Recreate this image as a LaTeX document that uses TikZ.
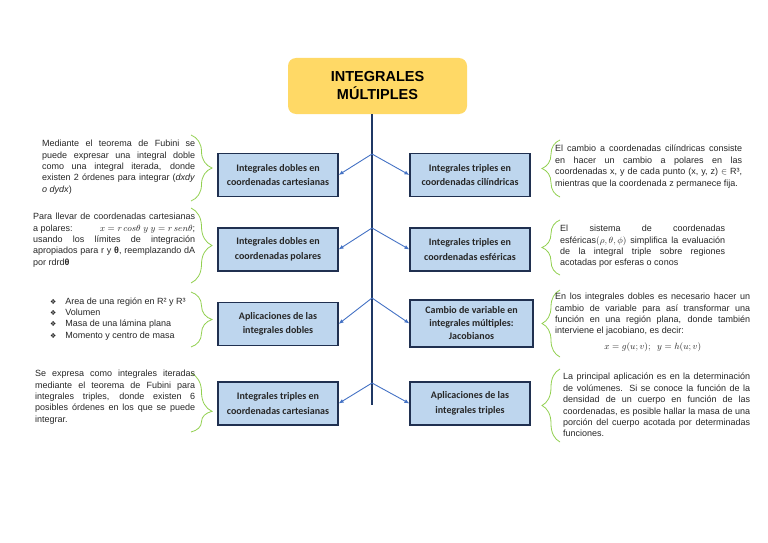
\documentclass[tikz,border=0pt]{standalone}
\usepackage{fontspec}
\setmainfont{Liberation Sans}
\newfontfamily\carlito{Carlito}
\newfontfamily\dejavu{DejaVu Sans}
\usetikzlibrary{decorations.pathreplacing, arrows.meta}
\tikzstyle{every picture}+=[font=\fontsize{9}{11.4}\selectfont]
\tikzstyle{titulo}=[fill=amarillo, rounded corners=8pt, minimum width=179pt, minimum height=56pt, align=center, font=\bfseries\fontsize{14.5}{18}\selectfont]
\tikzstyle{tema}=[draw=borde, fill=celeste, line width=1.1pt, minimum width=120pt, minimum height=43pt, align=center, inner sep=2pt, text=black!85, font=\carlito\bfseries\fontsize{10}{14.5}\selectfont]
\tikzstyle{nota}=[anchor=north west, inner sep=0pt, align=justify, text=black!85]
\tikzstyle{llave}=[draw=verde, line width=0.8pt, decorate, decoration={brace, amplitude=21pt}]
\tikzstyle{rama}=[draw=azul, line width=0.9pt, -{Latex[length=5pt, width=4pt]}]

\begin{document}
\begin{tikzpicture}[x=1pt, y=-1pt]
\definecolor{amarillo}{RGB}{255,217,102}
\definecolor{celeste}{RGB}{190,214,238}
\definecolor{borde}{RGB}{32,48,80}
\definecolor{azul}{RGB}{68,114,196}
\definecolor{verde}{RGB}{146,208,80}
\definecolor{marino}{RGB}{31,56,100}
\useasboundingbox (0,0) rectangle (768,543);
%%
\draw (377.5,86) node [titulo] (titulo) {INTEGRALES\\MÚLTIPLES};

%% eje central
\coordinate (ejeA) at (372,114);
\coordinate (ejeB) at (372,405);
\draw[marino, line width=2.2pt] (ejeA) -- (ejeB);

%% temas izquierda
\draw (278,175) node [tema] (dcart) {Integrales dobles en\\coordenadas cartesianas};
\draw (278,249.5) node [tema] (dpol) {Integrales dobles en\\coordenadas polares};
\draw (278,324) node [tema] (dapl) {Aplicaciones de las\\integrales dobles};
\draw (278,403.5) node [tema] (tcart) {Integrales triples en\\coordenadas cartesianas};

%% temas derecha
\draw (470,175) node [tema] (tcil) {Integrales triples en\\coordenadas cilíndricas};
\draw (470,249.5) node [tema] (tesf) {Integrales triples en\\coordenadas esféricas};
\draw (471.5,323.5) node [tema, minimum width=123pt, minimum height=47pt, font=\carlito\bfseries\fontsize{10}{13}\selectfont] (jacob) {Cambio de variable en\\integrales múltiples:\\Jacobianos};
\draw (470,403.5) node [tema] (tapl) {Aplicaciones de las\\integrales triples};

%% ramas
\coordinate (j1) at (372,154);
\coordinate (j2) at (372,228);
\coordinate (j3) at (372,298);
\coordinate (j4) at (372,383);
\draw[rama] (j1) -- (dcart.east);
\draw[rama] (j1) -- (tcil.west);
\draw[rama] (j2) -- (dpol.east);
\draw[rama] (j2) -- (tesf.west);
\draw[rama] (j3) -- (dapl.east);
\draw[rama] (j3) -- (jacob.west);
\draw[rama] (j4) -- (tcart.east);
\draw[rama] (j4) -- (tapl.west);

%% llaves
\coordinate (l1a) at (191,135); \coordinate (l1b) at (191,201);
\coordinate (l2a) at (191,208); \coordinate (l2b) at (191,283);
\coordinate (l3a) at (191,292); \coordinate (l3b) at (191,347);
\coordinate (l4a) at (191,373); \coordinate (l4b) at (191,432);
\draw[llave] (l1a) -- (l1b);
\draw[llave] (l2a) -- (l2b);
\draw[llave] (l3a) -- (l3b);
\draw[llave, decoration={aspect=0.65}] (l4a) -- (l4b);
\coordinate (r1a) at (560,140); \coordinate (r1b) at (560,197);
\coordinate (r2a) at (560,220); \coordinate (r2b) at (560,275);
\coordinate (r3a) at (560,290); \coordinate (r3b) at (560,357);
\coordinate (r4a) at (560,369); \coordinate (r4b) at (560,442);
\draw[llave, decoration={amplitude=18pt}] (r1b) -- (r1a);
\draw[llave, decoration={amplitude=18pt}] (r2b) -- (r2a);
\draw[llave, decoration={amplitude=18pt}] (r3b) -- (r3a);
\draw[llave, decoration={amplitude=18pt}] (r4b) -- (r4a);

%% textos izquierda
\draw (42,140) node [nota, text width=153pt] (n1) {Mediante el teorema de Fubini se\linebreak
 puede expresar una integral doble\linebreak
 como una integral iterada, donde\linebreak
 existen 2 órdenes para integrar (\textit{dxdy}\linebreak
 \textit{o dydx})};
\draw (33,213) node [nota, text width=162pt] (n2) {Para llevar de coordenadas cartesianas\linebreak
 a polares: \hfill$x = r\,cos\theta$ $y$ $y = r\,sen\theta$;\linebreak
 usando los límites de integración\linebreak
 apropiados para r y \textbf{θ}, reemplazando dA\linebreak
 por rdrd\textbf{θ}};
\draw (50,296) node [anchor=north west, inner sep=0pt, text=black!85] (n3) {%
  \renewcommand{\arraystretch}{1.0}%
  \begin{tabular}{@{}l@{\hspace{9pt}}l@{}}
    {\dejavu\fontsize{7}{8}\selectfont\char"2756} & Area de una región en R² y R³\\
    {\dejavu\fontsize{7}{8}\selectfont\char"2756} & Volumen\\
    {\dejavu\fontsize{7}{8}\selectfont\char"2756} & Masa de una lámina plana\\
    {\dejavu\fontsize{7}{8}\selectfont\char"2756} & Momento y centro de masa
  \end{tabular}};
\draw (35,370) node [nota, text width=160pt] (n4) {Se expresa como integrales iteradas\linebreak
 mediante el teorema de Fubini para\linebreak
 integrales triples, donde existen 6\linebreak
 posibles órdenes en los que se puede\linebreak
 integrar.};

%% textos derecha
\draw (555,145) node [nota, text width=187pt] (m1) {El cambio a coordenadas cilíndricas consiste\linebreak
 en hacer un cambio a polares en las\linebreak
 coordenadas x, y de cada punto (x, y, z) $\in$ R³,\linebreak
 mientras que la coordenada z permanece fija.};
\draw (560,225) node [nota, text width=165pt] (m2) {El sistema de coordenadas\linebreak
 esféricas$(\rho,\theta,\phi)$ simplifica la evaluación\linebreak
 de la integral triple sobre regiones\linebreak
 acotadas por esferas o conos};
\draw (555,293) node [nota, text width=195pt] (m3) {En los integrales dobles es necesario hacer un\linebreak
 cambio de variable para así transformar una\linebreak
 función en una región plana, donde también\linebreak
 interviene el jacobiano, es decir:\par\vspace{4pt}
 \hspace*{\fill}$x = g(u;v);\ \ y = h(u;v)$\hspace*{\fill}};
\draw (563,373) node [nota, text width=187pt] (m4) {La principal aplicación es en la determinación\linebreak
 de volúmenes. Si se conoce la función de la\linebreak
 densidad de un cuerpo en función de las\linebreak
 coordenadas, es posible hallar la masa de una\linebreak
 porción del cuerpo acotada por determinadas\linebreak
 funciones.};

\end{tikzpicture}
\end{document}
